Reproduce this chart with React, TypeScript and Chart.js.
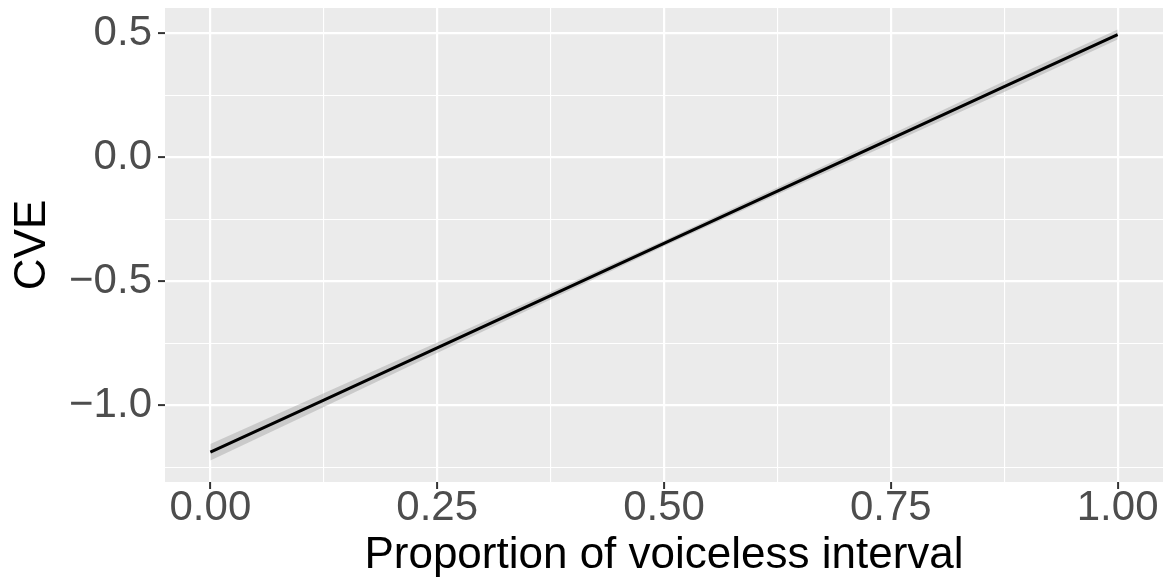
import React, { useEffect, useRef } from "react";
import { Chart, registerables } from "chart.js";

Chart.register(...registerables);

const xValues = [0, 0.125, 0.25, 0.375, 0.5, 0.625, 0.75, 0.875, 1];
const fitValues = [-1.19, -0.98, -0.769, -0.559, -0.348, -0.137, 0.073, 0.284, 0.494];
const lowerValues = [-1.223, -1.008, -0.79, -0.574, -0.36, -0.151, 0.055, 0.262, 0.474];
const upperValues = [-1.157, -0.952, -0.748, -0.544, -0.336, -0.123, 0.091, 0.306, 0.514];

const xMajorTicks = [0, 0.25, 0.5, 0.75, 1];
const xMinorTicks = [0.125, 0.375, 0.625, 0.875];
const xTickLabels = ["0.00", "0.25", "0.50", "0.75", "1.00"];
const yMajorTicks = [-1, -0.5, 0, 0.5];
const yMinorTicks = [-1.25, -0.75, -0.25, 0.25];
const yTickLabels = ["\u22121.0", "\u22120.5", "0.0", "0.5"];

const FONT = "'Liberation Sans', Arial, Helvetica, sans-serif";

const isIn = (arr: number[], v: number) => arr.some((a) => Math.abs(a - v) < 1e-9);

export default function App() {
  const ref = useRef<HTMLCanvasElement | null>(null);

  useEffect(() => {
    if (!ref.current) return;
    const bgPlugin = {
      id: "panelBg",
      beforeDraw(chart: any) {
        const { ctx, chartArea } = chart;
        ctx.save();
        ctx.fillStyle = "#EBEBEB";
        ctx.fillRect(chartArea.left, chartArea.top, chartArea.right - chartArea.left, chartArea.bottom - chartArea.top);
        ctx.restore();
      },
    };

    const pts = (ys: number[]) => xValues.map((x, i) => ({ x, y: ys[i] }));

    const chart = new Chart(ref.current, {
      type: "line",
      data: {
        datasets: [
          {
            label: "fit",
            data: pts(fitValues),
            borderWidth: 3,
            borderColor: "#000000",
            pointRadius: 0,
            fill: false,
            order: 0,
          },
          {
            label: "lower",
            data: pts(lowerValues),
            borderWidth: 0,
            pointRadius: 0,
            borderColor: "rgba(0,0,0,0)",
            fill: false,
            order: 1,
          },
          {
            label: "upper",
            data: pts(upperValues),
            borderWidth: 0,
            pointRadius: 0,
            borderColor: "rgba(0,0,0,0)",
            backgroundColor: "rgba(153,153,153,0.4)",
            fill: "-1",
            order: 2,
          },
        ],
      },
      options: {
        responsive: false,
        animation: false,
        layout: { padding: { top: 8, right: 3, left: 0, bottom: 0 } },
        plugins: { legend: { display: false }, tooltip: { enabled: false } },
        scales: {
          x: {
            type: "linear",
            min: -0.05,
            max: 1.05,
            afterFit: (s: any) => {
              s.height = 100;
              s.paddingLeft = 0;
              s.paddingRight = 0;
            },
            afterBuildTicks: (s: any) => {
              s.ticks = [...xMajorTicks, ...xMinorTicks].sort((a, b) => a - b).map((v) => ({ value: v }));
            },
            border: { display: false },
            grid: {
              color: "#FFFFFF",
              lineWidth: (c: any) => (isIn(xMajorTicks, c.tick.value) ? 2.2 : 1.1),
              tickColor: (c: any) => (isIn(xMajorTicks, c.tick.value) ? "#333333" : "rgba(0,0,0,0)"),
              tickLength: 7,
              tickWidth: 2,
            },
            ticks: {
              autoSkip: false,
              maxRotation: 0,
              padding: -2,
              color: "#4D4D4D",
              font: { family: FONT, size: 42, lineHeight: 1 },
              callback: (v: any) => {
                const i = xMajorTicks.findIndex((a) => Math.abs(a - v) < 1e-9);
                return i >= 0 ? xTickLabels[i] : "";
              },
            },
            title: {
              display: true,
              text: "Proportion of voiceless interval",
              color: "#000000",
              font: { family: FONT, size: 44, lineHeight: 1 },
              padding: { top: 0, bottom: 4 },
            },
          },
          y: {
            type: "linear",
            min: -1.31,
            max: 0.601,
            afterFit: (s: any) => {
              s.width = 165;
              s.paddingTop = 0;
              s.paddingBottom = 0;
            },
            afterBuildTicks: (s: any) => {
              s.ticks = [...yMajorTicks, ...yMinorTicks].sort((a, b) => a - b).map((v) => ({ value: v }));
            },
            border: { display: false },
            grid: {
              color: "#FFFFFF",
              lineWidth: (c: any) => (isIn(yMajorTicks, c.tick.value) ? 2.2 : 1.1),
              tickColor: (c: any) => (isIn(yMajorTicks, c.tick.value) ? "#333333" : "rgba(0,0,0,0)"),
              tickLength: 7,
              tickWidth: 2,
            },
            ticks: {
              autoSkip: false,
              padding: 6,
              color: "#4D4D4D",
              font: { family: FONT, size: 42, lineHeight: 1 },
              callback: (v: any) => {
                const i = yMajorTicks.findIndex((a) => Math.abs(a - v) < 1e-9);
                return i >= 0 ? yTickLabels[i] : "";
              },
            },
            title: {
              display: true,
              text: "CVE",
              color: "#000000",
              font: { family: FONT, size: 44, lineHeight: 1 },
              padding: { top: 11, bottom: 0 },
            },
          },
        },
      },
      plugins: [bgPlugin],
    } as any);

    return () => chart.destroy();
  }, []);

  return (
    <div style={{ position: "absolute", left: 0, top: 0, width: 1166, height: 582, background: "#FFFFFF" }}>
      <canvas ref={ref} width={1166} height={582} style={{ display: "block" }} />
    </div>
  );
}
